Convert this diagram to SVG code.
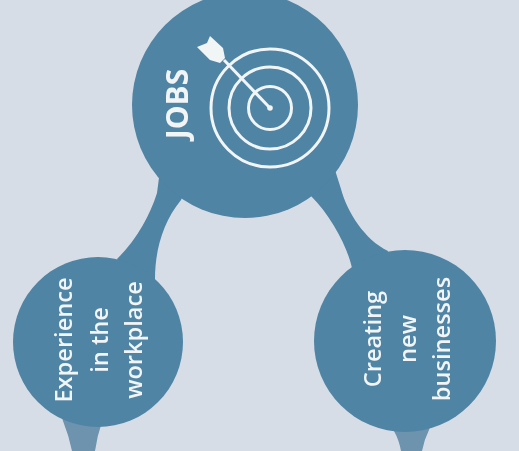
<svg xmlns="http://www.w3.org/2000/svg" width="519" height="451" viewBox="0 0 519 451">
<style>
.b{fill:#4f84a5}
.s{fill:#6d93ae}
.t{fill:#f2f5f6;font-family:"Open Sans","Liberation Sans",sans-serif;text-anchor:middle;font-size:23.6px;font-weight:600}
.r{fill:none;stroke:#f2f5f6;stroke-width:3}
</style>
<defs><filter id="soft" x="-5%" y="-5%" width="110%" height="110%"><feGaussianBlur stdDeviation="0.6"/></filter></defs>
<rect width="519" height="451" fill="#d7dde6"/>
<g filter="url(#soft)">
<g id="connectors">
<path class="s" d="M60 410L63 421Q69 436 72 451H95Q97 436 102 422L105 410Z"/>
<path class="s" d="M390 420L394 431Q399 440 401 451H422Q424 440 429 430L432 420Z"/>
<path class="b" d="M160 170L157 193C150 215 138 238 117 259L130 290L155 279C155 250 163 222 181 200L190 180Z"/>
<path class="b" d="M335 170L341 189C347 212 365 240 388 251L380 290L352 268C347 245 330 215 311 196L300 180Z"/>
</g>
<g id="jobs">
<circle class="b" cx="245" cy="105" r="113"/>
<circle class="r" cx="270" cy="108" r="59"/>
<circle class="r" cx="270" cy="108" r="41"/>
<circle class="r" cx="270" cy="108" r="21.5"/>
<path d="M270 108L224 60" fill="none" stroke="#f2f5f6" stroke-width="3"/>
<circle cx="270" cy="108" r="2.8" fill="#f2f5f6"/>
<path d="M197 47L207 43L210 36L223 48L225 58L220 63L210 60Z" fill="#f2f5f6"/>
<text class="t" transform="translate(188 104) rotate(-90)" style="font-size:30px;font-weight:700">JOBS</text>
</g>
<g id="experience">
<circle class="b" cx="98" cy="342" r="85"/>
<text class="t" transform="translate(72 340) rotate(-90)">Experience</text>
<text class="t" transform="translate(108 340) rotate(-90)">in the</text>
<text class="t" transform="translate(142 340) rotate(-90)">workplace</text>
</g>
<g id="creating">
<circle class="b" cx="405" cy="341" r="91"/>
<text class="t" transform="translate(381 339) rotate(-90)">Creating</text>
<text class="t" transform="translate(416 339) rotate(-90)">new</text>
<text class="t" transform="translate(450 339) rotate(-90)">businesses</text>
</g>
</g>
</svg>
